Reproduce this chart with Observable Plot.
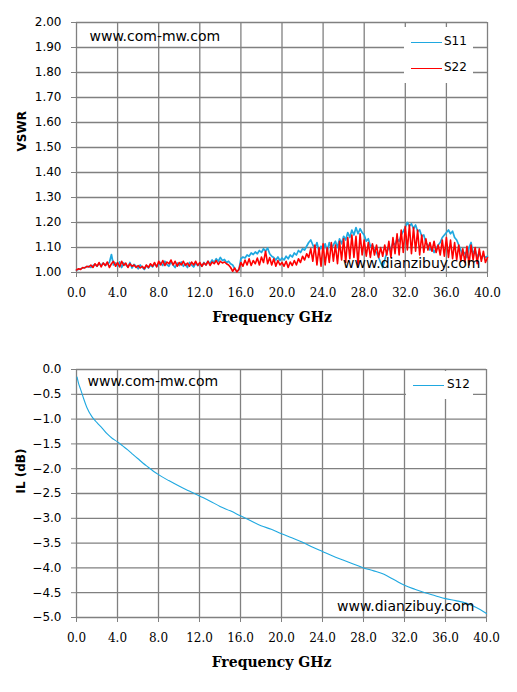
<!DOCTYPE html>
<html>
<head>
<meta charset="utf-8">
<script src="https://cdn.jsdelivr.net/npm/d3@7"></script>
<script src="https://cdn.jsdelivr.net/npm/@observablehq/plot@0.6"></script>
<style>
  html, body { margin: 0; padding: 0; background: #fff; }
  #wrap { position: relative; width: 517px; height: 692px; overflow: hidden; }
  #topChart, #bottomChart { position: absolute; left: 0; }
  #topChart { top: 0; }
  #bottomChart { top: 345px; }
  .legend { position: absolute; background: #fff; font-family: "DejaVu Sans", sans-serif; font-size: 12px; color: #000; }
  .entry { position: absolute; left: 0; height: 14px; }
  .entry .ln { position: absolute; left: 7px; width: 31px; top: 7px; height: 0; border-top-width: 1.4px; border-top-style: solid; }
  .entry .tx { position: absolute; left: 40px; top: -1px; white-space: nowrap; }
</style>
</head>
<body>
<div id="wrap">
  <div id="topChart"></div>
  <div id="bottomChart"></div>
  <div class="legend" style="left:404px; top:27px; width:69px; height:56px;">
    <div class="entry" style="top:8px;"><div class="ln" style="border-top-color:#1fa8e0"></div><div class="tx">S11</div></div>
    <div class="entry" style="top:34px;"><div class="ln" style="border-top-color:#ff0000"></div><div class="tx">S22</div></div>
  </div>
  <div class="legend" style="left:406px; top:371px; width:67px; height:28px;">
    <div class="entry" style="top:7px;"><div class="ln" style="left:7px; border-top-color:#1fa8e0"></div><div class="tx" style="left:41px">S12</div></div>
  </div>
</div>
<script>
// ---------- DATA ----------
const freqStep = 0.2; // GHz sample spacing of VSWR sweep
const s11 = [
  1.010,1.012,1.015,1.018,1.020,1.022,1.025,1.020,1.028,1.032,1.025,1.035,1.030,1.038,1.028,1.035,1.040,1.072,1.030,1.038,
  1.025,1.042,1.020,1.038,1.030,1.022,1.040,1.018,1.032,1.025,1.015,1.030,1.020,1.012,1.028,1.018,1.030,1.022,1.035,1.025,
  1.030,1.040,1.028,1.045,1.032,1.025,1.042,1.030,1.020,1.038,1.028,1.042,1.025,1.035,1.020,1.040,1.030,1.022,1.038,1.028,
  1.035,1.025,1.040,1.030,1.045,1.035,1.050,1.040,1.055,1.045,1.060,1.048,1.052,1.040,1.045,1.035,1.030,1.015,1.005,1.010,
  1.055,1.062,1.058,1.070,1.065,1.078,1.072,1.082,1.075,1.088,1.080,1.095,1.085,1.098,1.075,1.065,1.060,1.050,1.062,1.048,
  1.058,1.050,1.065,1.055,1.070,1.062,1.078,1.070,1.088,1.080,1.095,1.090,1.105,1.120,1.130,1.110,1.095,1.120,1.085,1.105,
  1.090,1.115,1.085,1.120,1.095,1.110,1.125,1.100,1.135,1.115,1.145,1.130,1.160,1.140,1.170,1.150,1.180,1.155,1.175,1.160,
  1.150,1.125,1.135,1.105,1.110,1.090,1.080,1.060,1.040,1.020,1.050,1.080,1.100,1.095,1.120,1.110,1.135,1.125,1.150,1.165,
  1.180,1.200,1.185,1.195,1.175,1.190,1.165,1.170,1.145,1.150,1.120,1.110,1.090,1.100,1.080,1.095,1.110,1.120,1.140,1.150,
  1.160,1.170,1.155,1.165,1.140,1.130,1.110,1.090,1.070,1.080,1.060,1.100,1.120,1.075,1.090,1.060,1.080,1.055,1.070,1.060,
  1.065
];
const s22 = [
  1.010,1.015,1.012,1.020,1.018,1.025,1.022,1.030,1.020,1.035,1.025,1.040,1.022,1.038,1.028,1.042,1.020,1.035,1.045,1.025,
  1.040,1.022,1.045,1.028,1.038,1.020,1.035,1.025,1.030,1.020,1.028,1.018,1.025,1.015,1.030,1.020,1.035,1.025,1.040,1.022,
  1.045,1.030,1.048,1.028,1.042,1.035,1.050,1.030,1.045,1.025,1.040,1.030,1.045,1.028,1.038,1.025,1.042,1.030,1.045,1.028,
  1.040,1.025,1.038,1.030,1.045,1.028,1.042,1.035,1.048,1.032,1.045,1.038,1.042,1.035,1.030,1.020,1.005,1.018,1.002,1.012,
  1.040,1.025,1.050,1.030,1.055,1.028,1.048,1.035,1.058,1.030,1.062,1.040,1.085,1.035,1.060,1.030,1.055,1.025,1.048,1.030,
  1.040,1.025,1.045,1.020,1.042,1.028,1.048,1.030,1.055,1.040,1.065,1.050,1.075,1.060,1.095,1.045,1.110,1.030,1.100,1.025,
  1.115,1.030,1.100,1.040,1.120,1.045,1.110,1.035,1.125,1.050,1.135,1.040,1.140,1.055,1.150,1.060,1.145,1.030,1.155,1.070,
  1.130,1.065,1.120,1.060,1.115,1.070,1.110,1.060,1.100,1.065,1.110,1.070,1.125,1.060,1.140,1.075,1.155,1.070,1.170,1.080,
  1.185,1.090,1.190,1.075,1.180,1.085,1.170,1.070,1.150,1.080,1.135,1.090,1.120,1.085,1.125,1.080,1.110,1.070,1.130,1.065,
  1.140,1.060,1.130,1.055,1.120,1.050,1.110,1.045,1.095,1.040,1.105,1.030,1.110,1.050,1.100,1.035,1.095,1.045,1.085,1.040,
  1.060
];
const ilFreq = [0.05,0.2,0.4,0.7,1.0,1.5,2.0,2.5,3.0,3.5,4.0,4.5,5.0,5.5,6.0,6.5,7.0,7.5,8.0,9,10,11,12,13,14,15,16,17,18,19,20,21,22,23,24,25,26,27,28,29,30,31,32,33,34,35,36,37,38,39,40];
const s12 = [-0.15,-0.28,-0.40,-0.59,-0.76,-0.95,-1.07,-1.18,-1.30,-1.39,-1.46,-1.54,-1.62,-1.71,-1.80,-1.89,-1.97,-2.05,-2.12,-2.24,-2.35,-2.45,-2.55,-2.65,-2.76,-2.85,-2.95,-3.05,-3.15,-3.22,-3.31,-3.39,-3.48,-3.58,-3.67,-3.76,-3.84,-3.92,-4.00,-4.06,-4.13,-4.24,-4.35,-4.43,-4.50,-4.56,-4.62,-4.66,-4.71,-4.80,-4.92];
const xTicks = [0,4,8,12,16,20,24,28,32,36,40];
const vswrTicks = [1.0,1.1,1.2,1.3,1.4,1.5,1.6,1.7,1.8,1.9,2.0];
const ilTicks = [0,-0.5,-1,-1.5,-2,-2.5,-3,-3.5,-4,-4.5,-5];
const seriesNames = ["S11","S22","S12"];
const seriesColors = ["#1fa8e0","#ff0000","#1fa8e0"];
const watermarkTop = "www.com-mw.com";
const watermarkBottom = "www.dianzibuy.com";

// ---------- BUILD ----------
const vswrRows = [];
s11.forEach((v,i) => vswrRows.push({f: +(i*freqStep).toFixed(2), v, s: seriesNames[0]}));
s22.forEach((v,i) => vswrRows.push({f: +(i*freqStep).toFixed(2), v, s: seriesNames[1]}));
const ilRows = s12.map((v,i) => ({f: ilFreq[i], v}));

const gridColor = "#808080";
const fmtX = d3.format(".1f");

function commonMarks(yTicks, yFmt) {
  return [
    Plot.gridX(xTicks, {stroke: gridColor, strokeOpacity: 1, strokeWidth: 1.3}),
    Plot.gridY(yTicks, {stroke: gridColor, strokeOpacity: 1, strokeWidth: 1.3}),
    Plot.axisX(xTicks, {tickFormat: fmtX, tickSize: 5, tickPadding: 11, stroke: gridColor, fill: "#000",
      fontFamily: "DejaVu Serif, serif", fontSize: 12, label: null}),
    Plot.axisY(yTicks, {tickFormat: yFmt, tickSize: 5, tickPadding: 10, stroke: gridColor, fill: "#000",
      fontFamily: "DejaVu Sans, sans-serif", fontSize: 12, label: null}),
    Plot.text(["Frequency GHz"], {frameAnchor: "bottom", dy: 49, dx: -10, fontFamily: "DejaVu Serif, serif",
      fontWeight: "bold", fontSize: 14, fill: "#000"})
  ];
}

const topPlot = Plot.plot({
  width: 517, height: 345,
  marginTop: 22, marginBottom: 73, marginLeft: 76, marginRight: 30,
  style: {background: "#fff", color: "#000", overflow: "visible"},
  x: {domain: [0, 40]},
  y: {domain: [1, 2]},
  marks: [
    ...commonMarks(vswrTicks, d3.format(".2f")),
    Plot.text([watermarkTop], {frameAnchor: "top-left", textAnchor: "start", lineAnchor: "bottom", dx: 13, dy: 18,
      fontFamily: "DejaVu Sans, sans-serif", fontSize: 14, fill: "#000"}),
    Plot.line(vswrRows.filter(d => d.s === "S11"), {x: "f", y: "v", stroke: seriesColors[0], strokeWidth: 1.7}),
    Plot.line(vswrRows.filter(d => d.s === "S22"), {x: "f", y: "v", stroke: seriesColors[1], strokeWidth: 1.6}),
    Plot.text([watermarkBottom], {frameAnchor: "bottom-right", textAnchor: "end", lineAnchor: "bottom", dx: -7, dy: -5,
      fontFamily: "DejaVu Sans, sans-serif", fontSize: 14, fill: "#000"}),
    Plot.text(["VSWR"], {frameAnchor: "left", rotate: -90, dx: -54, dy: 4, fontFamily: "DejaVu Sans, sans-serif",
      fontWeight: "bold", fontSize: 12, fill: "#000"})
  ]
});
document.getElementById("topChart").appendChild(topPlot);

const bottomPlot = Plot.plot({
  width: 517, height: 347,
  marginTop: 24, marginBottom: 75, marginLeft: 76, marginRight: 31,
  style: {background: "#fff", color: "#000", overflow: "visible"},
  x: {domain: [0, 40]},
  y: {domain: [-5, 0]},
  marks: [
    ...commonMarks(ilTicks, d3.format(".1f")),
    Plot.text([watermarkTop], {frameAnchor: "top-left", textAnchor: "start", lineAnchor: "bottom", dx: 11, dy: 16,
      fontFamily: "DejaVu Sans, sans-serif", fontSize: 14, fill: "#000"}),
    Plot.line(ilRows, {x: "f", y: "v", stroke: seriesColors[2], strokeWidth: 1.1, curve: "monotone-x"}),
    Plot.text([watermarkBottom], {frameAnchor: "bottom-right", textAnchor: "end", lineAnchor: "bottom", dx: -12, dy: -7,
      fontFamily: "DejaVu Sans, sans-serif", fontSize: 14, fill: "#000"}),
    Plot.text(["IL (dB)"], {frameAnchor: "left", rotate: -90, dx: -55, dy: 0, fontFamily: "DejaVu Sans, sans-serif",
      fontWeight: "bold", fontSize: 12, fill: "#000"})
  ]
});
document.getElementById("bottomChart").appendChild(bottomPlot);
</script>
</body>
</html>
